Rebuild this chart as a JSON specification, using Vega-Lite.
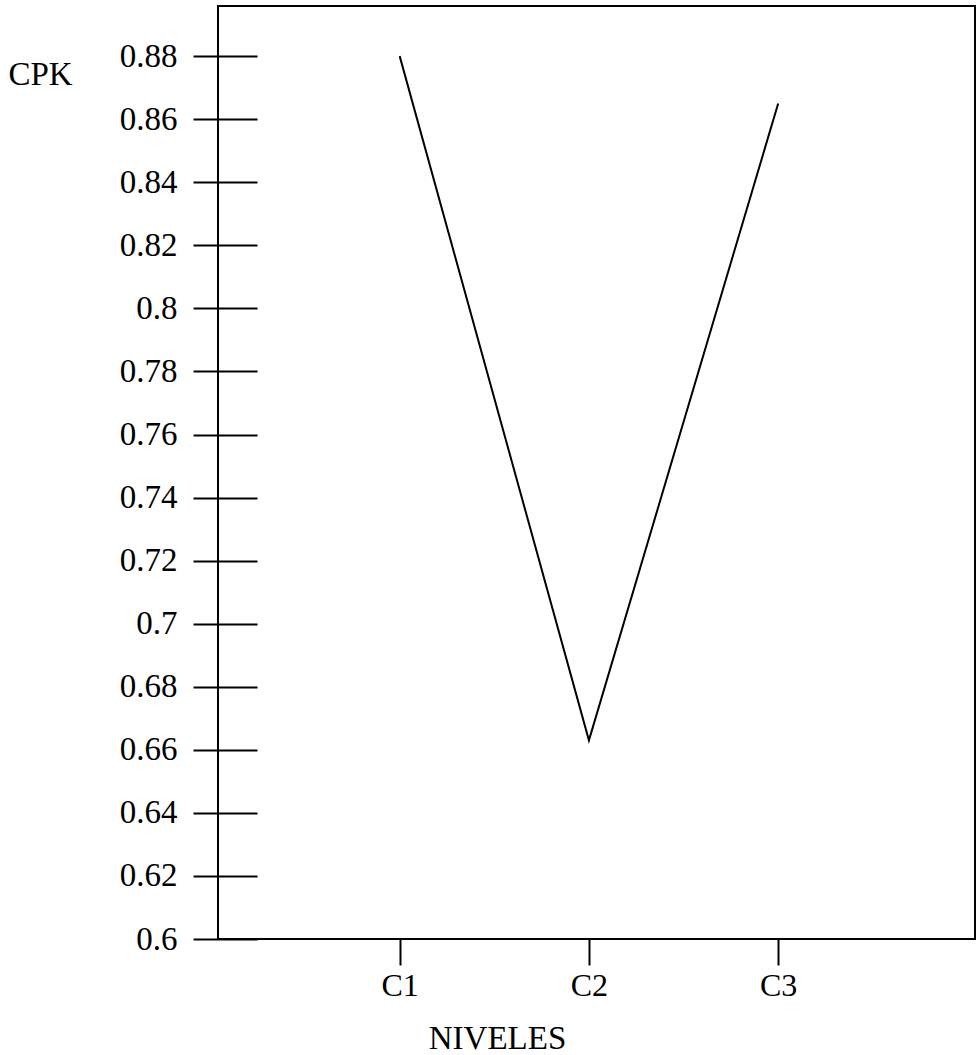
{
  "$schema": "https://vega.github.io/schema/vega-lite/v6.json",
  "width": 757,
  "height": 933,
  "autosize": "none",
  "padding": {"left": 218, "top": 6, "right": 5, "bottom": 116},
  "background": "white",
  "config": {
    "view": {"stroke": "black", "strokeWidth": 2},
    "font": "Liberation Serif",
    "axis": {"labelFont": "Liberation Serif", "titleFont": "Liberation Serif", "labelColor": "black", "titleColor": "black", "tickColor": "black", "domainColor": "black", "grid": false, "titleFontWeight": "normal"}
  },
  "data": {"values": [
    {"nivel": "C1", "cpk": 0.880},
    {"nivel": "C2", "cpk": 0.663},
    {"nivel": "C3", "cpk": 0.865}
  ]},
  "encoding": {
    "x": {"field": "nivel", "type": "ordinal", "scale": {"type": "point", "padding": 1.0, "align": 0.48},
      "axis": {"title": "NIVELES", "labelAngle": 0, "labelFontSize": 32, "titleFontSize": 33, "tickSize": 26, "tickWidth": 2, "labelPadding": 30, "labelBaseline": "alphabetic", "domain": false, "titleX": 279, "titleY": 109, "titleAlign": "center", "titleBaseline": "alphabetic"}}
  },
  "layer": [
    {
      "mark": {"type": "line", "color": "black", "strokeWidth": 2},
      "encoding": {
        "y": {"field": "cpk", "type": "quantitative", "scale": {"domain": [0.6, 0.8959], "nice": false, "zero": false},
          "axis": {"orient": "left", "title": "CPK", "values": [0.6, 0.62, 0.64, 0.66, 0.68, 0.7, 0.72, 0.74, 0.76, 0.78, 0.8, 0.82, 0.84, 0.86, 0.88], "format": "~g", "labelFontSize": 33, "tickSize": 25, "tickWidth": 2, "labelPadding": 16, "domain": false, "titleAngle": 0, "titleX": -210, "titleY": 78, "titleAlign": "left", "titleBaseline": "alphabetic", "titleFontSize": 33}}
      }
    },
    {
      "mark": {"type": "line", "color": "black", "strokeWidth": 2, "opacity": 0},
      "encoding": {
        "y": {"field": "cpk", "type": "quantitative", "scale": {"domain": [0.6, 0.8959], "nice": false, "zero": false},
          "axis": {"orient": "left", "title": null, "values": [0.6, 0.62, 0.64, 0.66, 0.68, 0.7, 0.72, 0.74, 0.76, 0.78, 0.8, 0.82, 0.84, 0.86, 0.88], "labels": false, "tickSize": -39, "tickWidth": 2, "domain": false}}
      }
    }
  ],
  "resolve": {"axis": {"y": "independent"}}
}
